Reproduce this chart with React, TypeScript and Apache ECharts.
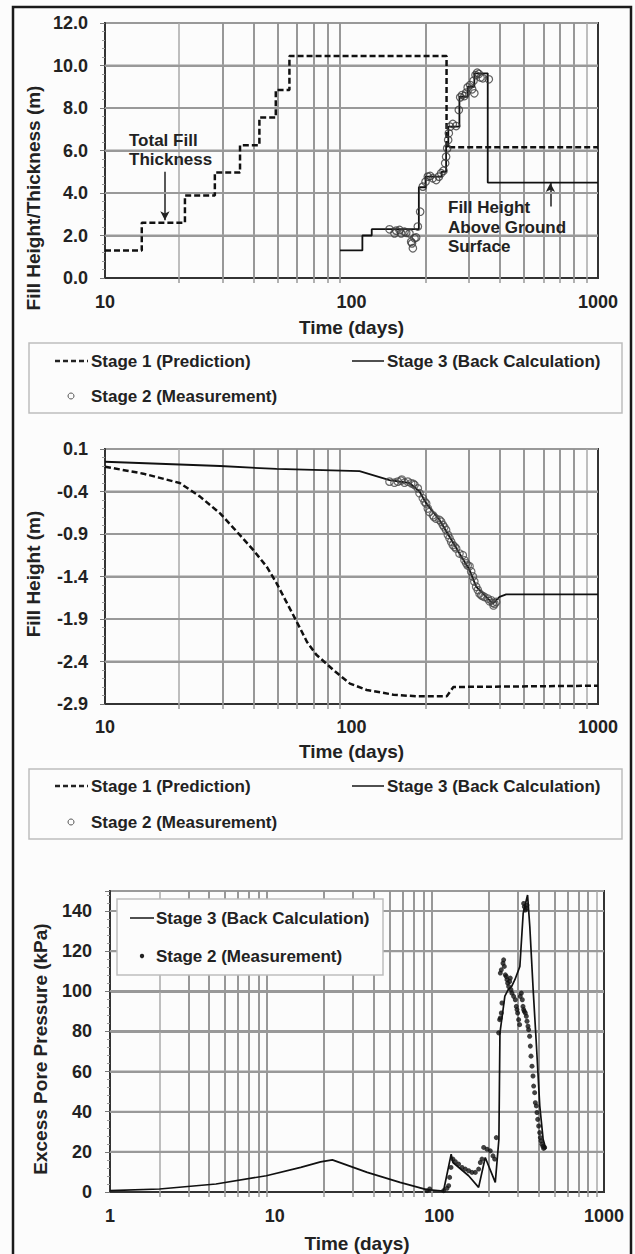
import React, { useEffect, useRef } from 'react';
import * as echarts from 'echarts';

const FONT = '"Liberation Sans", Arial, Helvetica, sans-serif';
const INK = '#222';
const BG = '#fcfcfc';
const HGRID = { color: '#999', width: 2 };

const S1 = 'Stage 1 (Prediction)';
const S2 = 'Stage 2 (Measurement)';
const S3 = 'Stage 3 (Back Calculation)';
const X_TITLE = 'Time (days)';

// ---------- top chart: fill height / thickness ----------
const topYTitle = 'Fill Height/Thickness (m)';
const topNoteLeft = 'Total Fill\nThickness';
const topNoteRight = 'Fill Height\nAbove Ground\nSurface';
const topYTicks = [2, 4, 6, 8, 10];
const topPrediction: number[][] = [
  [10, 1.3], [14.1, 1.3], [14.1, 2.6], [21.1, 2.6], [21.1, 3.88], [27.9, 3.88], [27.9, 4.96],
  [35.3, 4.96], [35.3, 6.25], [42.3, 6.25], [42.3, 7.55], [49.3, 7.55], [49.3, 8.85], [56, 8.85],
  [56, 10.45], [243, 10.45], [243, 6.15], [1000, 6.15],
];
const topBackCalc: number[][] = [
  [89.8, 1.3], [110.7, 1.3], [110.7, 2.0], [120.8, 2.0], [120.8, 2.3], [187.6, 2.3], [187.6, 4.27],
  [199.7, 4.27], [199.7, 4.77], [232, 4.77], [232, 5.0], [242, 5.0], [242, 6.18], [247, 6.18],
  [247, 7.12], [274, 7.12], [274, 8.53], [296, 8.53], [296, 9.0], [315, 9.0], [315, 9.63],
  [357, 9.63], [357, 4.49], [1000, 4.49],
];
const topMeasured: number[][] = [
  [142.6, 2.29], [149.4, 2.10], [151.8, 2.23], [156.6, 2.26], [159.0, 2.10], [164.1, 2.18],
  [166.7, 2.13], [171.9, 2.10], [174.6, 1.71], [176, 1.63], [177.4, 1.40], [180.2, 1.87],
  [182.9, 1.91], [185.8, 2.42], [189.9, 3.12], [194.7, 4.30], [199.7, 4.53], [204.0, 4.77],
  [208.5, 4.80], [213.8, 4.69], [220.6, 4.61], [226.2, 4.77], [231.1, 4.93], [236.2, 5.05],
  [239.9, 5.40], [242, 5.71], [244.4, 6.10], [246.7, 6.49], [248.2, 6.81], [251.3, 7.12],
  [257.6, 7.25], [265.8, 7.15], [272.5, 7.91], [276, 8.50], [281.2, 8.61], [287.3, 8.56],
  [291.9, 8.72], [296, 8.97], [303, 9.08], [308.7, 8.88], [312.6, 9.28], [315, 8.69],
  [318.5, 9.55], [323.6, 9.66], [328.6, 9.60], [333.8, 9.44], [341.1, 9.40], [360.6, 9.35],
];
// arrows of the annotations: [start, tip]
const topArrowLeft: number[][] = [[17.5, 5.0], [17.5, 2.72]];
const topArrowRight: number[][] = [[641, 3.36], [641, 4.47]];

// ---------- middle chart: settlement ----------
const midYTitle = 'Fill Height (m)';
const midTickShift = 0.1; // ticks read 0.1, -0.4, ... -2.9
const midYTicks = [-0.4, -0.9, -1.4, -1.9, -2.4];
const midPrediction: number[][] = [
  [10, -0.108], [14.3, -0.19], [20.1, -0.30], [24.3, -0.46], [29.3, -0.657], [34.2, -0.87],
  [40.0, -1.09], [45.3, -1.285], [49.7, -1.48], [59.9, -1.93], [66, -2.17], [72, -2.32],
  [84.4, -2.50], [98.6, -2.66], [115.3, -2.735], [147.8, -2.79], [183.9, -2.81], [243.4, -2.81],
  [259, -2.70], [1000, -2.685],
];
const midBackCalc: number[][] = [
  [10, -0.05], [29.3, -0.10], [49.7, -0.135], [107.8, -0.16], [142.6, -0.265], [171.9, -0.30],
  [188.8, -0.40], [201, -0.54], [227.5, -0.735], [249.5, -0.93], [274.2, -1.13], [301, -1.32],
  [320.4, -1.52], [351.9, -1.64], [374.5, -1.72], [398.6, -1.64], [424.2, -1.61], [1000, -1.61],
];
const midMeasured: number[][] = [
  [142.6, -0.284], [149.4, -0.296], [154.2, -0.284], [159.0, -0.273], [160, -0.26], [164.1, -0.296],
  [169.2, -0.284], [174.6, -0.304], [178, -0.31], [180.2, -0.324], [185.8, -0.363], [188.8, -0.42],
  [194.7, -0.48], [198, -0.52], [200.9, -0.54], [204.0, -0.60], [207.2, -0.64], [213.8, -0.68],
  [216, -0.70], [220.6, -0.72], [227.5, -0.735], [231.1, -0.755], [234.8, -0.794], [238, -0.82],
  [242, -0.853], [245.9, -0.91], [249.8, -0.95], [253.7, -0.99], [257.6, -1.03], [262, -1.05],
  [265.8, -1.07], [274.2, -1.13], [282.9, -1.15], [287.3, -1.21], [291.9, -1.245], [296, -1.27],
  [301.2, -1.28], [305.9, -1.34], [310.7, -1.40], [315, -1.46], [320.4, -1.52], [325.4, -1.56],
  [330.6, -1.60], [335.7, -1.62], [340, -1.63], [346.4, -1.64], [357, -1.66], [363, -1.69],
  [368.7, -1.68], [374.5, -1.71], [377, -1.74], [380.2, -1.72], [386.3, -1.70],
];

// ---------- bottom chart: excess pore pressure ----------
const botYTitle = 'Excess Pore Pressure (kPa)';
const botYTicks = [20, 40, 60, 80, 100, 120, 140];
const botBackCalc: number[][] = [
  [1, 0.7], [2, 1.5], [4.4, 4.0], [8.9, 8.1], [14.4, 12.3], [19, 15.0], [22.4, 16.0], [36.5, 9.8],
  [57.7, 4.8], [83.7, 1.2], [106, 0.5], [118, 18.9], [121, 14.7], [150.6, 8.1], [173.2, 2.3],
  [190, 17.2], [218.7, 4.8], [230, 26.3], [233.4, 79.3], [250, 97.6], [262, 100.8], [274.5, 102.4],
  [287.6, 105.8], [308.3, 112.4], [323, 138.9], [343.4, 148], [354.4, 132.2], [371.4, 100.8],
  [389, 72.6], [407.4, 42.8], [426.9, 26.3], [443.6, 21.4],
];
const botMeasured: number[][] = [
  [84.2, 0.66], [87.4, 1.49], [106.2, 0.66], [111.3, 1.82], [113.9, 3.14], [115.5, 7.28],
  [117.7, 12.25], [121.0, 16.4], [125.1, 15.06], [131.0, 13.9], [137.3, 12.25], [143.8, 11.42],
  [150.7, 10.6], [157.9, 9.77], [165.4, 9.77], [173.3, 11.42], [177.4, 14.7], [181.6, 16.4],
  [185.9, 22.2], [194.7, 21.35], [204.0, 20.5], [211.7, 18.0], [216.8, 16.4], [221.8, 27.1],
  [229.2, 79.3], [232.4, 85.9], [234.6, 86.7], [237.9, 89.2], [240.1, 94.2], [234.6, 109.1],
  [237.9, 110.7], [243.5, 114.0], [245.8, 115.7], [248.1, 112.4], [251.6, 108.2], [255.1, 107.4],
  [257.5, 105.8], [259.9, 104.1], [263.6, 102.4], [267.3, 104.9], [269.8, 106.6], [272.3, 100.8],
  [276.1, 99.1], [282.6, 97.5], [289.3, 95.8], [293.4, 92.5], [296.2, 90.9], [298.9, 89.2],
  [303.1, 85.9], [307.4, 83.4], [310.3, 97.5], [314.7, 99.1], [319.1, 95.8], [322.1, 92.5],
  [325.1, 90.9], [328.2, 90.0], [332.8, 89.2], [337.5, 87.6], [340.6, 85.1], [345.4, 82.6],
  [348.6, 80.9], [353.6, 77.6], [356.9, 72.7], [360.3, 67.7], [365.4, 62.7], [370.5, 57.8],
  [373.9, 52.8], [379.2, 49.5], [382.8, 44.5], [388.2, 42.9], [391.8, 39.6], [395.5, 36.2],
  [401.1, 32.9], [406.7, 29.6], [410.5, 27.1], [414.4, 25.5], [420.2, 23.8], [426.1, 22.7],
  [430.1, 21.7], [436.1, 22.2], [325.1, 143.8], [328.2, 142.2], [332.8, 140.5], [337.5, 141.3],
  [340.6, 143.0],
];

// minor (2..9 per decade) time gridlines
const minorDays10to1000 = [20, 30, 40, 50, 60, 70, 80, 90, 200, 300, 400, 500, 600, 700, 800, 900];
const minorDays1to1000 = [2, 3, 4, 5, 6, 7, 8, 9, ...minorDays10to1000];

const midAxisTicks = midYTicks.map((v) => +(v - midTickShift).toFixed(4));
// horizontal value gridlines per grid: [gridIndex, ticks on the axis, xMin, xMax]
const hGridSpecs: [number, number[], number, number][] = [
  [0, topYTicks, 10, 1000],
  [1, midAxisTicks, 10, 1000],
  [2, botYTicks, 1, 1000],
];

const txt = (size: number) => ({ fontSize: size, fontWeight: 'bold' as const, color: INK, fontFamily: FONT });

function xAxis(gridIndex: number, min: number, max: number, minor: number[], labelMargin: number, nameGap: number) {
  return {
    type: 'log', logBase: 10, gridIndex, min, max,
    axisLine: { show: true, onZero: false, lineStyle: { color: '#333', width: 2 } },
    axisTick: { show: true, inside: false, length: 5, customValues: minor, lineStyle: { color: '#999', width: 1.5 } },
    axisLabel: { ...txt(18), margin: labelMargin, formatter: (v: number) => String(Math.round(v)) },
    splitLine: { show: true, showMinLine: false, showMaxLine: false, lineStyle: { color: '#333', width: 1.5 } },
    minorTick: { show: false },
    name: X_TITLE, nameLocation: 'middle', nameGap, nameTextStyle: txt(19),
  };
}

// hidden 0..1 helper axis spanning each plot, for the horizontal gridline series
const spanAxis = (gridIndex: number) => ({
  type: 'value', gridIndex, min: 0, max: 1, show: false, position: 'top',
  axisLine: { show: false }, axisTick: { show: false }, axisLabel: { show: false }, splitLine: { show: false },
});

function yAxis(gridIndex: number, min: number, max: number, interval: number, margin: number, formatter: (v: number) => string) {
  return {
    type: 'value', gridIndex, min, max, interval,
    axisLine: { show: true, onZero: false, lineStyle: { color: '#333', width: 2 } },
    axisTick: { show: true, inside: false, length: 5, lineStyle: { color: '#777', width: 1 } },
    minorTick: { show: true, splitNumber: 5, length: 3, lineStyle: { color: '#999', width: 1 } },
    axisLabel: { ...txt(18), margin, formatter },
    splitLine: { show: true, lineStyle: { ...HGRID, type: 'solid' } },
  };
}

// vertical minor time gridlines (+ annotation arrows) as marker lines
function gridMarkLine(minorX: number[], extra: any[] = []) {
  return {
    silent: true,
    symbol: ['none', 'none'],
    label: { show: false },
    lineStyle: { color: '#aaa', width: 1.5, type: 'solid' },
    data: [...minorX.map((v) => ({ xAxis: v })), ...extra],
  };
}

function arrow(pts: number[][]) {
  const ls = { color: INK, width: 1.5, type: 'solid' };
  return [
    { coord: pts[0], symbol: 'none', lineStyle: ls },
    { coord: pts[1], symbol: 'arrow', symbolSize: [7, 9], lineStyle: ls, itemStyle: { color: INK } },
  ];
}

const hGridSeries: any[] = [];
hGridSpecs.forEach(([gi, ticks]) => {
  ticks.forEach((v) => {
    hGridSeries.push({
      type: 'line', xAxisIndex: 3 + gi, yAxisIndex: gi, data: [[0, v], [1, v]],
      symbol: 'none', silent: true, z: 2, legendHoverLink: false,
      lineStyle: { ...HGRID, type: 'solid' },
    });
  });
});

const dashed = { color: '#111', width: 2.5, type: [6, 3] };
const solid = { color: '#111', width: 1.8, type: 'solid' };
const openCircle = { color: 'rgba(255,255,255,0)', borderColor: '#3a3a3a', borderWidth: 1.2 };

const midShift = (d: number[][]) => d.map(([t, v]) => [t, +(v - midTickShift).toFixed(4)]);

function legendBlock(top: number, row1: number, row2: number) {
  return [
    { type: 'rect', z: 20, shape: { x: 29, y: top, width: 593, height: row2 - top + 17 }, style: { fill: BG, stroke: '#bdbdbd', lineWidth: 1.5 } },
    { type: 'line', z: 21, shape: { x1: 55, y1: row1, x2: 88, y2: row1 }, style: { stroke: INK, lineWidth: 2.5, lineDash: [5, 3] } },
    { type: 'text', z: 21, x: 91, y: row1, style: { text: S1, fill: INK, fontSize: 17, fontWeight: 'bold', fontFamily: FONT, align: 'left', verticalAlign: 'middle' } },
    { type: 'line', z: 21, shape: { x1: 352, y1: row1, x2: 384, y2: row1 }, style: { stroke: INK, lineWidth: 1.6 } },
    { type: 'text', z: 21, x: 387, y: row1, style: { text: S3, fill: INK, fontSize: 17, fontWeight: 'bold', fontFamily: FONT, align: 'left', verticalAlign: 'middle' } },
    { type: 'circle', z: 21, shape: { cx: 71, cy: row2, r: 3 }, style: { fill: BG, stroke: '#555', lineWidth: 1 } },
    { type: 'text', z: 21, x: 91, y: row2, style: { text: S2, fill: INK, fontSize: 17, fontWeight: 'bold', fontFamily: FONT, align: 'left', verticalAlign: 'middle' } },
  ];
}

const yTitle = (text: string, x: number, y: number) => ({
  type: 'text', z: 21, x, y, rotation: Math.PI / 2,
  style: { text, fill: INK, fontSize: 19, fontWeight: 'bold', fontFamily: FONT, align: 'center', verticalAlign: 'middle' },
});

const baseGraphic: any[] = [
  { type: 'rect', z: 30, silent: true, shape: { x: 13, y: 7, width: 618, height: 1280 }, style: { fill: 'none', stroke: '#1a1a1a', lineWidth: 2.5 } },
  yTitle(topYTitle, 33, 198),
  yTitle(midYTitle, 33, 574),
  yTitle(botYTitle, 40, 1049),
  { type: 'text', z: 21, x: 129, y: 130.5, style: { text: topNoteLeft, fill: INK, fontSize: 17, fontWeight: 'bold', fontFamily: FONT, align: 'left', verticalAlign: 'top', lineHeight: 19 } },
  { type: 'text', z: 21, x: 448, y: 198, style: { text: topNoteRight, fill: INK, fontSize: 17, fontWeight: 'bold', fontFamily: FONT, align: 'left', verticalAlign: 'top', lineHeight: 19.5 } },
  ...legendBlock(343, 361, 396),
  ...legendBlock(769, 786, 822),
  { type: 'rect', z: 20, shape: { x: 117, y: 899, width: 266, height: 76 }, style: { fill: BG, stroke: '#bdbdbd', lineWidth: 1.5 } },
  { type: 'line', z: 21, shape: { x1: 130, y1: 918, x2: 154, y2: 918 }, style: { stroke: INK, lineWidth: 1.6 } },
  { type: 'text', z: 21, x: 156, y: 918, style: { text: S3, fill: INK, fontSize: 17, fontWeight: 'bold', fontFamily: FONT, align: 'left', verticalAlign: 'middle' } },
  { type: 'circle', z: 21, shape: { cx: 142, cy: 956, r: 2.2 }, style: { fill: INK } },
  { type: 'text', z: 21, x: 156, y: 956, style: { text: S2, fill: INK, fontSize: 17, fontWeight: 'bold', fontFamily: FONT, align: 'left', verticalAlign: 'middle' } },
];

const option: any = {
  animation: false,
  backgroundColor: BG,
  grid: [
    { left: 105, top: 23, width: 493, height: 255, show: true, borderColor: '#333', borderWidth: 2, backgroundColor: 'transparent' },
    { left: 105, top: 449, width: 493, height: 255, show: true, borderColor: '#333', borderWidth: 2, backgroundColor: 'transparent' },
    { left: 110, top: 891, width: 494, height: 302, show: true, borderColor: '#333', borderWidth: 2, backgroundColor: 'transparent' },
  ],
  xAxis: [
    xAxis(0, 10, 1000, minorDays10to1000, 15, 40),
    xAxis(1, 10, 1000, minorDays10to1000, 14, 38),
    xAxis(2, 1, 1000, minorDays1to1000, 15, 42),
    spanAxis(0),
    spanAxis(1),
    spanAxis(2),
  ],
  yAxis: [
    yAxis(0, 0, 12, 2, 17, (v) => v.toFixed(1)),
    yAxis(1, -2.9 - midTickShift, 0.1 - midTickShift, 0.5, 17, (v) => (v + midTickShift).toFixed(1)),
    yAxis(2, 0, 150, 20, 18, (v) => (v >= 150 ? '' : String(v))),
  ],
  series: [
    ...hGridSeries,
    {
      name: S1, type: 'line', xAxisIndex: 0, yAxisIndex: 0, data: topPrediction, symbol: 'none', z: 6,
      lineStyle: dashed,
      markLine: gridMarkLine(minorDays10to1000, [arrow(topArrowLeft), arrow(topArrowRight)]),
    },
    { name: S3, type: 'line', xAxisIndex: 0, yAxisIndex: 0, data: topBackCalc, symbol: 'none', z: 6, lineStyle: solid },
    { name: S2, type: 'scatter', xAxisIndex: 0, yAxisIndex: 0, data: topMeasured, symbol: 'circle', symbolSize: 7.5, z: 7, itemStyle: openCircle },

    {
      name: S1, type: 'line', xAxisIndex: 1, yAxisIndex: 1, data: midShift(midPrediction), symbol: 'none', z: 6,
      lineStyle: dashed,
      markLine: gridMarkLine(minorDays10to1000),
    },
    { name: S3, type: 'line', xAxisIndex: 1, yAxisIndex: 1, data: midShift(midBackCalc), symbol: 'none', z: 6, lineStyle: solid },
    { name: S2, type: 'scatter', xAxisIndex: 1, yAxisIndex: 1, data: midShift(midMeasured), symbol: 'circle', symbolSize: 7.5, z: 7, itemStyle: { ...openCircle, borderColor: '#4a4a4a' } },

    {
      name: S3, type: 'line', xAxisIndex: 2, yAxisIndex: 2, data: botBackCalc, symbol: 'none', z: 6,
      lineStyle: { color: '#111', width: 1.7, type: 'solid' },
      markLine: gridMarkLine(minorDays1to1000),
    },
    { name: S2, type: 'scatter', xAxisIndex: 2, yAxisIndex: 2, data: botMeasured, symbol: 'circle', symbolSize: 5, z: 7, itemStyle: { color: '#111' } },
  ],
  graphic: baseGraphic,
};

export default function App() {
  const ref = useRef<HTMLDivElement>(null);
  useEffect(() => {
    if (!ref.current) return;
    const chart = echarts.init(ref.current, null, { renderer: 'svg' });
    chart.setOption(option);
    // horizontal gridlines also placed through the axes' own scales, just below the data
    const hLines: any[] = [];
    try {
      hGridSpecs.forEach(([gi, ticks, xMin, xMax]) => {
        ticks.forEach((v) => {
          const p1 = chart.convertToPixel({ xAxisIndex: gi, yAxisIndex: gi } as any, [xMin, v]) as number[];
          const p2 = chart.convertToPixel({ xAxisIndex: gi, yAxisIndex: gi } as any, [xMax, v]) as number[];
          if (!p1 || !p2 || !isFinite(p1[0]) || !isFinite(p1[1]) || !isFinite(p2[0])) return;
          hLines.push({
            type: 'line', z: 5.5, silent: true,
            shape: { x1: p1[0], y1: Math.round(p1[1]), x2: p2[0], y2: Math.round(p1[1]) },
            style: { stroke: HGRID.color, lineWidth: HGRID.width },
          });
        });
      });
    } catch (e) {
      // keep the chart even if the conversion is unavailable
    }
    if (hLines.length) chart.setOption({ graphic: [...baseGraphic, ...hLines] });
    return () => chart.dispose();
  }, []);
  return (
    <div
      ref={ref}
      style={{ position: 'absolute', left: 0, top: 0, width: 635, height: 1254, background: BG }}
    />
  );
}
